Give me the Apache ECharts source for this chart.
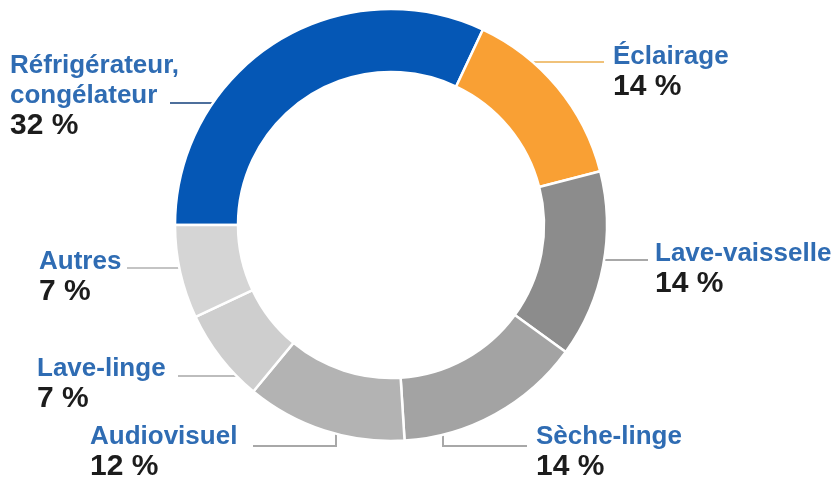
<!DOCTYPE html>
<html>
<head>
<meta charset="utf-8">
<script src="https://cdn.jsdelivr.net/npm/echarts@6/dist/echarts.min.js"></script>
<style>
  html, body { margin: 0; padding: 0; background: #ffffff; }
  #chart { width: 835px; height: 486px; }
</style>
</head>
<body>
<div id="chart"></div>
<script>
// ---- data ----
const categories = [
  'Réfrigérateur,\ncongélateur',
  'Éclairage',
  'Lave-vaisselle',
  'Sèche-linge',
  'Audiovisuel',
  'Lave-linge',
  'Autres'
];
const shares = [32, 14, 14, 14, 12, 7, 7];

// ---- styling ----
const sliceColors = ['#0557b5', '#f9a034', '#8c8c8c', '#a3a3a3', '#b3b3b3', '#cecece', '#d5d5d5'];
const lineColors  = ['#4d6f9c', '#f0c27a', '#a8a8a8', '#a8a8a8', '#a8a8a8', '#bdbdbd', '#c4c4c4'];

const CX = 391, CY = 225, R_OUT = 216, R_IN = 153;

// label placement (layout only): label top-left, and leader line description
// kind 'h': horizontal line at y from ring to xEnd; kind 'v': vertical from ring at x down to y, then horizontal to xEnd
const labelPlaces = [
  { lx: 10,  ly: 51,  kind: 'h', side: -1, y: 103, xEnd: 170 },
  { lx: 613, ly: 42,  kind: 'h', side:  1, y: 62,  xEnd: 604 },
  { lx: 655, ly: 239, kind: 'h', side:  1, y: 260, xEnd: 648 },
  { lx: 536, ly: 422, kind: 'v', x: 443, y: 446, xEnd: 527 },
  { lx: 90,  ly: 422, kind: 'v', x: 336, y: 446, xEnd: 253 },
  { lx: 37,  ly: 354, kind: 'h', side: -1, y: 376, xEnd: 178 },
  { lx: 39,  ly: 247, kind: 'h', side: -1, y: 268, xEnd: 127 }
];

function linePoints(p) {
  if (p.kind === 'h') {
    const dx = Math.sqrt(R_OUT * R_OUT - (p.y - CY) * (p.y - CY));
    const xr = CX + p.side * (dx - 1);
    return [[xr, p.y], [(xr + p.xEnd) / 2, p.y], [p.xEnd, p.y]];
  }
  const dy = Math.sqrt(R_OUT * R_OUT - (p.x - CX) * (p.x - CX));
  return [[p.x, CY + dy - 1], [p.x, p.y], [p.xEnd, p.y]];
}

const chart = echarts.init(document.getElementById('chart'), null, { renderer: 'canvas' });

const seriesData = categories.map((name, i) => ({
  name: name,
  value: shares[i],
  itemStyle: { color: sliceColors[i] },
  labelLine: { lineStyle: { color: lineColors[i] } }
}));

chart.setOption({
  backgroundColor: '#ffffff',
  animation: false,
  series: [{
    type: 'pie',
    center: [CX, CY],
    radius: [R_IN, R_OUT],
    startAngle: 180,
    clockwise: true,
    avoidLabelOverlap: false,
    itemStyle: { borderColor: '#ffffff', borderWidth: 2.5 },
    label: {
      show: true,
      position: 'outside',
      fontFamily: 'Liberation Sans, Arial, sans-serif',
      formatter: function (p) {
        const lines = p.name.split('\n').map(s => '{n|' + s + '}');
        return lines.join('\n') + '\n{p|' + p.value + ' %}';
      },
      rich: {
        n: { fontSize: 26, fontWeight: 'bold', color: '#2f6cb3', lineHeight: 30, fontFamily: 'Liberation Sans, Arial, sans-serif' },
        p: { fontSize: 30, fontWeight: 'bold', color: '#1c1c1c', lineHeight: 30, fontFamily: 'Liberation Sans, Arial, sans-serif' }
      }
    },
    labelLine: { show: true, smooth: false, lineStyle: { width: 2 } },
    labelLayout: function (params) {
      const p = labelPlaces[params.dataIndex];
      return {
        x: p.lx,
        y: p.ly,
        align: 'left',
        verticalAlign: 'top',
        labelLinePoints: linePoints(p)
      };
    },
    data: seriesData
  }]
});
</script>
</body>
</html>
